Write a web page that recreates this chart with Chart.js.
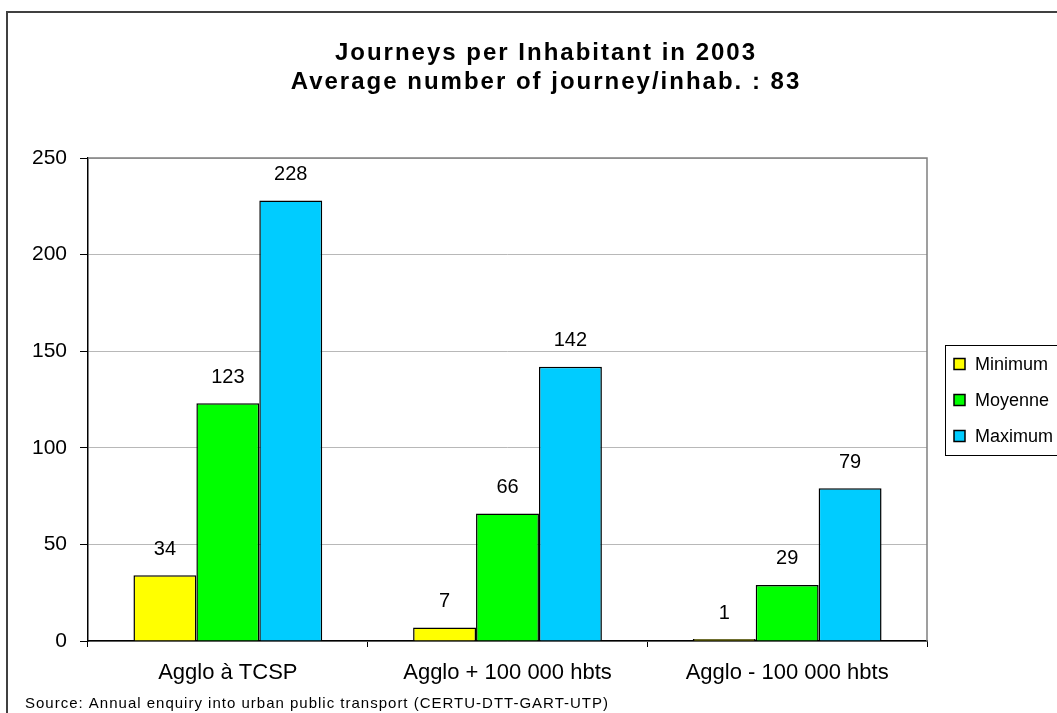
<!DOCTYPE html>
<html>
<head>
<meta charset="utf-8">
<script src="https://cdn.jsdelivr.net/npm/chart.js@4.4.0/dist/chart.umd.min.js"></script>
<style>
  html, body { margin: 0; padding: 0; background: #ffffff; }
  #wrap { width: 1057px; height: 713px; position: relative; }
</style>
</head>
<body>
<div id="wrap"><canvas id="journeyChart" width="1057" height="713"></canvas></div>
<script>
// ========== DATA ==========
var categories = ["Agglo à TCSP", "Agglo + 100 000 hbts", "Agglo - 100 000 hbts"];
var minimumValues = [34, 7, 1];
var moyenneValues = [123, 66, 29];
var maximumValues = [228, 142, 79];
var seriesNames = ["Minimum", "Moyenne", "Maximum"];
var titleLines = ["Journeys per Inhabitant in 2003", "Average number of journey/inhab. : 83"];
var sourceNote = "Source: Annual enquiry into urban public transport (CERTU-DTT-GART-UTP)";

var FONT = "'Liberation Sans', Arial, Helvetica, sans-serif";

// ========== PLUGIN: frame, title, value labels, legend, source ==========
var excelLook = {
  id: "excelLook",
  beforeDraw: function (chart) {
    var ctx = chart.ctx;
    ctx.save();
    ctx.fillStyle = "#ffffff";
    ctx.fillRect(0, 0, chart.width, chart.height);
    ctx.restore();
  },
  afterDatasetsDraw: function (chart) {
    var ctx = chart.ctx;
    var area = chart.chartArea;
    ctx.save();
    // plot area border (top + right, gray)
    ctx.strokeStyle = "#808080";
    ctx.lineWidth = 1.5;
    ctx.beginPath();
    ctx.moveTo(area.left, area.top);
    ctx.lineTo(area.right, area.top);
    ctx.lineTo(area.right, area.bottom);
    ctx.stroke();

    // value labels above bars
    ctx.fillStyle = "#000000";
    ctx.font = "20px " + FONT;
    ctx.textAlign = "center";
    ctx.textBaseline = "middle";
    chart.data.datasets.forEach(function (ds, i) {
      var meta = chart.getDatasetMeta(i);
      meta.data.forEach(function (bar, j) {
        ctx.fillText(String(ds.data[j]), bar.x, bar.y - 26);
      });
    });
    ctx.restore();
  },
  afterDraw: function (chart) {
    var ctx = chart.ctx;
    ctx.save();

    // outer chart frame
    ctx.strokeStyle = "#404040";
    ctx.lineWidth = 2;
    ctx.strokeRect(7, 12, 1200, 900);

    // title
    ctx.fillStyle = "#000000";
    ctx.font = "bold 24px " + FONT;
    ctx.letterSpacing = "2px";
    ctx.textAlign = "center";
    ctx.textBaseline = "middle";
    ctx.fillText(titleLines[0], 546, 53);
    ctx.fillText(titleLines[1], 546, 82);
    ctx.letterSpacing = "0px";

    // legend box
    ctx.strokeStyle = "#000000";
    ctx.lineWidth = 1;
    ctx.strokeRect(945.5, 345.5, 200, 110);
    ctx.font = "18px " + FONT;
    ctx.textAlign = "left";
    chart.data.datasets.forEach(function (ds, i) {
      var cy = 364 + i * 36;
      ctx.fillStyle = ds.backgroundColor;
      ctx.fillRect(954, cy - 5.5, 11, 11);
      ctx.strokeStyle = "#000000";
      ctx.lineWidth = 1.5;
      ctx.strokeRect(954, cy - 5.5, 11, 11);
      ctx.fillStyle = "#000000";
      ctx.fillText(ds.label, 975, cy + 1);
    });

    // source note
    ctx.font = "15px " + FONT;
    ctx.letterSpacing = "1px";
    ctx.textAlign = "left";
    ctx.fillText(sourceNote, 25, 704);
    ctx.letterSpacing = "0px";
    ctx.restore();
  }
};

// ========== CHART ==========
var barStyle = {
  borderColor: "#000000",
  borderWidth: 1.5,
  categoryPercentage: 0.675,
  barPercentage: 1.0
};

new Chart(document.getElementById("journeyChart"), {
  type: "bar",
  data: {
    labels: categories,
    datasets: [
      Object.assign({ label: seriesNames[0], data: minimumValues, backgroundColor: "#ffff00" }, barStyle),
      Object.assign({ label: seriesNames[1], data: moyenneValues, backgroundColor: "#00ff00" }, barStyle),
      Object.assign({ label: seriesNames[2], data: maximumValues, backgroundColor: "#00ccff" }, barStyle)
    ]
  },
  options: {
    responsive: false,
    animation: false,
    layout: {
      padding: { top: 158, right: 130, bottom: 12, left: 0 }
    },
    plugins: {
      legend: { display: false },
      title: { display: false },
      tooltip: { enabled: false }
    },
    scales: {
      x: {
        grid: {
          offset: true,
          drawOnChartArea: false,
          tickLength: 6,
          tickColor: "#000000",
          color: "#000000"
        },
        border: { color: "#000000", width: 1.5 },
        ticks: {
          padding: 13,
          color: "#000000",
          font: { family: FONT, size: 22 }
        },
        afterFit: function (axis) { axis.height = 60; }
      },
      y: {
        min: 0,
        max: 250,
        ticks: {
          stepSize: 50,
          padding: 13,
          color: "#000000",
          font: { family: FONT, size: 21 }
        },
        grid: {
          color: "#b8b8b8",
          tickColor: "#000000",
          tickLength: 8
        },
        border: { color: "#000000", width: 1.5 },
        afterFit: function (axis) { axis.width = 88; }
      }
    }
  },
  plugins: [excelLook]
});
</script>
</body>
</html>
